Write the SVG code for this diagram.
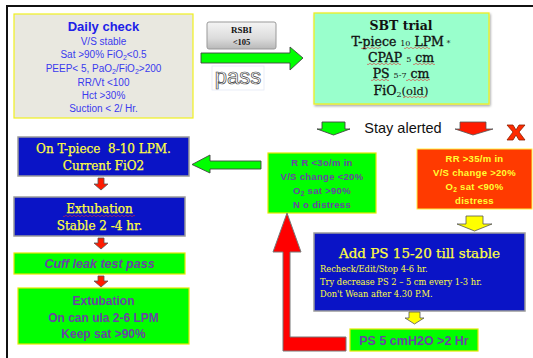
<svg xmlns="http://www.w3.org/2000/svg" width="533" height="358" viewBox="0 0 533 358">
  <defs>
    <linearGradient id="rsbiFill" x1="0" y1="0" x2="0" y2="1">
      <stop offset="0" stop-color="#f4f4f4"/>
      <stop offset="0.6" stop-color="#dcdcdc"/>
      <stop offset="1" stop-color="#b8b8b8"/>
    </linearGradient>
    <filter id="shadow" x="-5%" y="-5%" width="112%" height="115%">
      <feDropShadow dx="1" dy="1.5" stdDeviation="1" flood-color="#000" flood-opacity="0.35"/>
    </filter>
  </defs>
  <style>
    .sans { font-family: "Liberation Sans", Arial, sans-serif; }
    .check { fill: #3a3aee; font-size: 10px; }
    .sbt { fill: #111; font-size: 12.5px; font-family: "DejaVu Serif", serif; stroke: #111; stroke-width: 0.35; }
    .sbt .sm { font-size: 8px; stroke-width: 0; }
    .blueTxt { fill: #ffff40; font-family: "DejaVu Serif", serif; stroke: #ffff40; stroke-width: 0.25; }
    .noteTxt { fill: #ffff40; font-family: "DejaVu Serif", serif; font-size: 8.3px; }
    .purple { fill: #6a44a4; font-weight: bold; }
    .yellowTxt { fill: #ffff33; font-weight: bold; }
    .blueBox { fill: #0a14c6; stroke: #9a9a9a; stroke-width: 1.5; }
    .greenBox { fill: #00ff00; stroke: #e6e600; stroke-width: 1.2; }
    .arrowRed { fill: #ff1a00; stroke: #555; stroke-width: 0.8; }
    .arrowGreen { fill: #00ff00; stroke: #444; stroke-width: 0.9; }
    .arrowYellow { fill: #ffff00; stroke: #555; stroke-width: 0.8; }
    .wavy { fill: none; stroke: #e03030; stroke-width: 0.6; }
  </style>

  <rect width="533" height="358" fill="#ffffff"/>

  <!-- page frame -->
  <path d="M7 358 V6 H533" fill="none" stroke="#111" stroke-width="2"/>

  <!-- Daily check -->
  <g id="daily-check">
    <rect x="14" y="14" width="179" height="104" fill="#e9e8e0" stroke="#f0f020" stroke-width="1.2"/>
    <text x="103.5" y="31" text-anchor="middle" class="sans" font-size="13" font-weight="bold" fill="#2020e8">Daily check</text>
    <g class="sans check" text-anchor="middle">
      <text x="103.5" y="45">V/S stable</text>
      <text x="103.5" y="58">Sat &gt;90% FiO<tspan font-size="7" dy="2">2</tspan><tspan dy="-2">&lt;0.5</tspan></text>
      <text x="103.5" y="72">PEEP&lt; 5, PaO<tspan font-size="7" dy="2">2</tspan><tspan dy="-2">/FiO</tspan><tspan font-size="7" dy="2">2</tspan><tspan dy="-2">&gt;200</tspan></text>
      <text x="103.5" y="86">RR/Vt &lt;100</text>
      <text x="103.5" y="99">Hct &gt;30%</text>
      <text x="103.5" y="112">Suction &lt; 2/ Hr.</text>
    </g>
  </g>

  <!-- RSBI gate -->
  <g id="rsbi">
    <rect x="207" y="22" width="69" height="27" rx="2" fill="url(#rsbiFill)" stroke="#999" stroke-width="1"/>
    <text x="241.5" y="33" text-anchor="middle" font-family="Liberation Serif, serif" font-size="9" font-weight="bold" fill="#111">RSBI</text>
    <text x="241.5" y="45" text-anchor="middle" font-family="Liberation Serif, serif" font-size="8.5" font-weight="bold" fill="#111">&lt;105</text>
  </g>

  <!-- pass label -->
  <g id="pass">
    <rect x="212" y="66" width="52" height="24" fill="#ffffff" stroke="#e4e8f4" stroke-width="0.8"/>
    <text x="238" y="84" text-anchor="middle" class="sans" font-size="22" fill="#ffffff" stroke="#444" stroke-width="0.7">pass</text>
  </g>

  <!-- SBT trial -->
  <g id="sbt-trial">
    <rect x="314" y="13" width="175" height="91" fill="#99ffcc" stroke="#eeee22" stroke-width="1.3" filter="url(#shadow)"/>
    <g class="sbt" text-anchor="middle">
      <text x="401" y="30" font-weight="bold" stroke-width="0">SBT trial</text>
      <text x="401" y="46">T-piece <tspan class="sm">10</tspan> LPM<tspan class="sm"> *</tspan></text>
      <text x="401" y="62">CPAP <tspan class="sm">5</tspan> cm</text>
      <text x="401" y="78">PS <tspan class="sm">5-7</tspan> cm</text>
      <text x="401" y="95">FiO<tspan class="sm" dy="2">2</tspan><tspan dy="-2" stroke-width="0.1" font-size="11.5">(old)</tspan></text>
    </g>
    <path class="wavy" d="M361 48 q1 1.5 2 0 t2 0 t2 0 t2 0 t2 0 t2 0 t2 0 t2 0 t2 0 t2 0"/>
    <path class="wavy" d="M404 48 q1 1.5 2 0 t2 0 t2 0 t2 0 t2 0 t2 0 t2 0 t2 0 t2 0 t2 0 t2 0 t2 0 t2 0"/>
    <path class="wavy" d="M367 64 q1 1.5 2 0 t2 0 t2 0 t2 0 t2 0 t2 0 t2 0 t2 0 t2 0 t2 0 t2 0 t2 0 t2 0 t2 0 t2 0 t2 0 t2 0"/>
    <path class="wavy" d="M413 64 q1 1.5 2 0 t2 0 t2 0 t2 0 t2 0 t2 0 t2 0 t2 0 t2 0 t2 0 t2 0"/>
    <path class="wavy" d="M371 80 q1 1.5 2 0 t2 0 t2 0 t2 0 t2 0 t2 0 t2 0 t2 0 t2 0"/>
    <path class="wavy" d="M406 80 q1 1.5 2 0 t2 0 t2 0 t2 0 t2 0 t2 0 t2 0 t2 0 t2 0 t2 0 t2 0 t2 0"/>
    <path class="wavy" d="M403 97 q1 1.5 2 0 t2 0 t2 0 t2 0 t2 0 t2 0 t2 0 t2 0 t2 0 t2 0 t2 0 t2 0"/>
  </g>

  <!-- Stay alerted -->
  <g id="stay-alerted">
    <text x="403" y="133" text-anchor="middle" class="sans" font-size="14.5" fill="#111">Stay alerted</text>
  </g>

  <!-- Stable criteria (green) -->
  <g id="stable-criteria">
    <rect x="268" y="153" width="108" height="60" class="greenBox"/>
    <g class="sans purple" text-anchor="middle" font-size="9.5" letter-spacing="0.3">
      <text x="322" y="166">R R &lt;3o/m in</text>
      <text x="322" y="180">V/S change &lt;20%</text>
      <text x="322" y="194">O<tspan font-size="6.5" dy="2">2</tspan><tspan dy="-2"> sat &gt;90%</tspan></text>
      <text x="322" y="208">N o distress</text>
    </g>
  </g>

  <!-- Unstable criteria (red) -->
  <g id="unstable-criteria">
    <rect x="417" y="149" width="115" height="60" fill="#ff3a00" stroke="#ffee40" stroke-width="1"/>
    <g class="sans yellowTxt" text-anchor="middle" font-size="9.5" letter-spacing="0.3">
      <text x="474.5" y="162">RR &gt;35/m in</text>
      <text x="474.5" y="176">V/S change &gt;20%</text>
      <text x="474.5" y="190">O<tspan font-size="6.5" dy="2">2</tspan><tspan dy="-2"> sat &lt;90%</tspan></text>
      <text x="474.5" y="204">distress</text>
    </g>
  </g>

  <!-- On T-piece -->
  <g id="on-tpiece">
    <rect x="18" y="137" width="171" height="39" class="blueBox"/>
    <g class="blueTxt" text-anchor="middle" font-size="12">
      <text x="103.5" y="153">On T-piece&#160; 8-10 LPM.</text>
      <text x="103.5" y="170">Current FiO2</text>
    </g>
  </g>

  <!-- Extubation stable -->
  <g id="extubation-stable">
    <rect x="14" y="197" width="171" height="39" class="blueBox"/>
    <g class="blueTxt" text-anchor="middle" font-size="12">
      <text x="99.5" y="213">Extubation</text>
      <text x="99.5" y="230">Stable 2 -4 hr.</text>
    </g>
    <path class="wavy" d="M63 216 q1 1.5 2 0 t2 0 t2 0 t2 0 t2 0 t2 0 t2 0 t2 0 t2 0 t2 0 t2 0 t2 0 t2 0 t2 0 t2 0 t2 0 t2 0 t2 0 t2 0 t2 0 t2 0 t2 0 t2 0 t2 0 t2 0 t2 0 t2 0 t2 0 t2 0 t2 0 t2 0 t2 0 t2 0 t2 0 t2 0 t2 0"/>
  </g>

  <!-- Cuff leak test -->
  <g id="cuff-leak">
    <rect x="14" y="253" width="171" height="21" class="greenBox"/>
    <text x="99.5" y="268" text-anchor="middle" class="sans purple" font-size="12.5" font-style="italic">Cuff leak test pass</text>
  </g>

  <!-- Extubation on canula -->
  <g id="extubation-canula">
    <rect x="18" y="288" width="171" height="56" class="greenBox"/>
    <g class="sans purple" text-anchor="middle" font-size="12">
      <text x="103.5" y="305">Extubation</text>
      <text x="103.5" y="322">On can ula 2-6 LPM</text>
      <text x="103.5" y="338">Keep sat &gt;90%</text>
    </g>
  </g>

  <!-- Add PS -->
  <g id="add-ps">
    <rect x="314" y="233" width="211" height="78" class="blueBox"/>
    <text x="419.5" y="258" text-anchor="middle" class="blueTxt" font-size="13.5">Add PS 15-20 till stable</text>
    <g class="noteTxt">
      <text x="320" y="272">Recheck/Edit/Stop 4-6 hr.</text>
      <text x="320" y="285">Try decrease PS 2 – 5 cm every 1-3 hr.</text>
      <text x="320" y="297">Don't Wean after 4.30 P.M.</text>
    </g>
  </g>

  <!-- PS 5 -->
  <g id="ps5">
    <rect x="350" y="329" width="128" height="22" class="greenBox"/>
    <text x="414" y="345" text-anchor="middle" class="sans purple" font-size="12.5">PS 5 cmH2O &gt;2 Hr</text>
  </g>

  <!-- connectors -->
  <g id="connectors">
    <!-- RSBI pass -> SBT -->
    <polygon class="arrowGreen" points="201,53 290,53 290,47 303,58 290,70 290,63 201,63"/>
    <!-- SBT outcomes -->
    <polygon class="arrowGreen" points="322,122 345,122 345,129 350,129 333.5,135 317,129 322,129"/>
    <polygon class="arrowRed" points="460,122 486,122 486,129 493,129 473,135 455,129 460,129"/>
    <!-- fail mark -->
    <polygon fill="#ff2a00" stroke="#8a2000" stroke-width="0.8" points="507,125 513,125 516,130 519,125 525,125 519,132 525,140 519,140 516,135 513,140 507,140 513,132"/>
    <!-- stable -> T-piece -->
    <polygon class="arrowGreen" points="261,161 210,161 210,155 192,164.5 210,173 210,169 261,169"/>
    <!-- T-piece chain -->
    <polygon class="arrowRed" points="98,178 104,178 104,184 108,184 101,190 94,184 98,184"/>
    <polygon class="arrowRed" points="98,238 104,238 104,243 108,243 101,249 94,243 98,243"/>
    <polygon class="arrowRed" points="98,276 104,276 104,281 108,281 101,287 94,281 98,281"/>
    <!-- unstable -> Add PS -->
    <polygon class="arrowYellow" points="466,216 483,216 483,224 492,224 474.5,231 457,224 466,224"/>
    <!-- Add PS -> PS 5 -->
    <polygon class="arrowYellow" points="409,312 420,312 420,318 424,318 414.5,324 405,318 409,318"/>
    <!-- PS 5 -> stable criteria -->
    <polygon fill="#ff0000" stroke="#777" stroke-width="1" points="346,337 290,337 290,252 301,252 287,213 273,252 283,252 283,351 346,351"/>
  </g>
</svg>
